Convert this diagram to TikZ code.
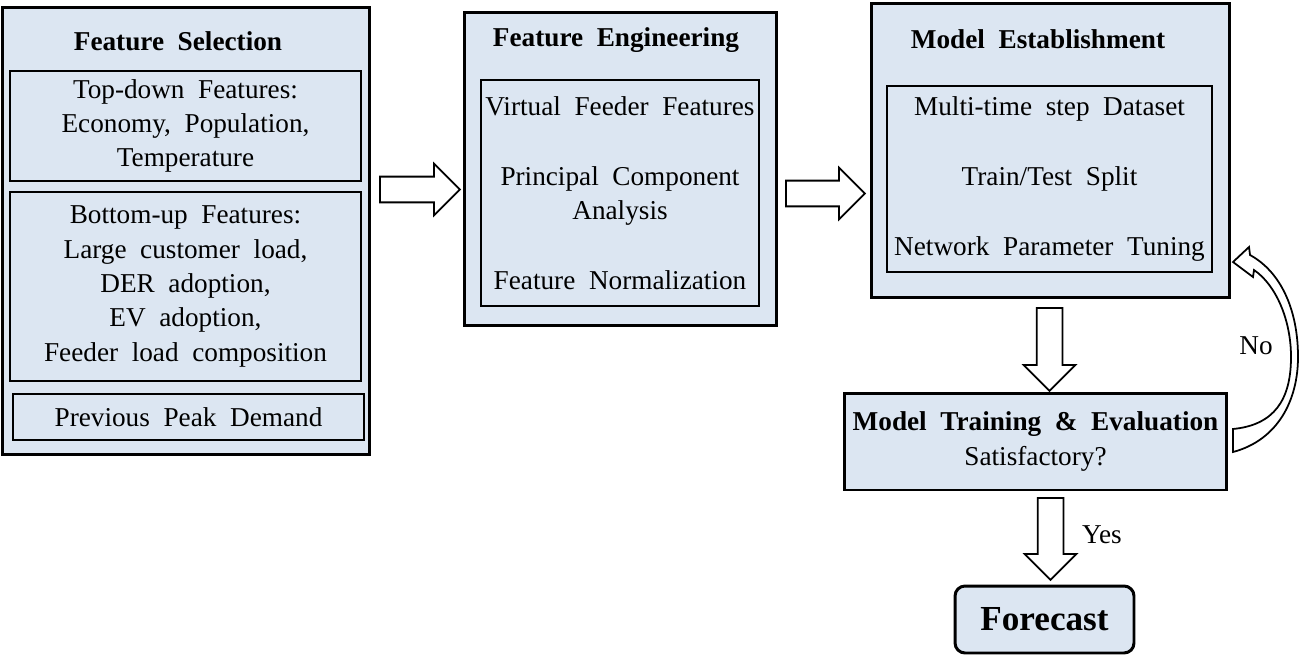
\documentclass[tikz,border=0pt]{standalone}
\usepackage{fontspec}
\setmainfont[WordSpace=2]{Liberation Serif}
\usetikzlibrary{shapes,arrows}
\definecolor{boxblue}{RGB}{220,230,242}
\newcommand{\boxfont}{\fontsize{15.5}{19.6}\selectfont}
\tikzstyle{outer} = [rectangle, draw, fill=boxblue, line width=1.7pt, inner sep=0pt]
\tikzstyle{inner} = [rectangle, draw, fill=boxblue, line width=1.1pt,
    align=center, inner sep=0pt]
\tikzstyle{title} = [font=\boxfont\bfseries, inner sep=0pt]
\tikzstyle{fat} = [single arrow, draw, fill=white, line width=1pt,
    inner xsep=0pt, inner ysep=0.24cm, anchor=tail,
    single arrow head extend=0.26cm, single arrow tip angle=90,
    single arrow head indent=0pt, minimum width=1cm]
\tikzstyle{curved} = [draw, fill=white, line width=1pt, line join=miter]

\begin{document}
\begin{tikzpicture}[x=0.02cm, y=-0.02cm, font=\boxfont]
        \useasboundingbox (0,0) rectangle (1300,655);

        % Place nodes
        \node [outer, minimum width=7.36cm, minimum height=8.96cm] (select) at (186,231) {};
        \node [title] (selecttitle) at (178,41) {Feature Selection};
        \node [inner, minimum width=7.02cm, minimum height=2.2cm] (topdown) at (185.5,126)
            {Top-down Features:\\ Economy, Population,\\ Temperature};
        \node [inner, minimum width=7.02cm, minimum height=3.78cm] (bottomup) at (185.5,286.5)
            {Bottom-up Features:\\ Large customer load,\\ DER adoption,\\ EV adoption,\\ Feeder load composition};
        \node [inner, minimum width=7.02cm, minimum height=0.92cm] (peak) at (188.5,417)
            {Previous Peak Demand};

        \node [outer, minimum width=6.26cm, minimum height=6.28cm] (engin) at (620.5,169) {};
        \node [title] (engintitle) at (616,40) {Feature Engineering};
        \node [inner, minimum width=5.56cm, minimum height=4.52cm] (enginlist) at (620,193)
            {Virtual Feeder Features\\[0.71cm] Principal Component\\ Analysis\\[0.71cm] Feature Normalization};

        \node [outer, minimum width=7.18cm, minimum height=5.9cm] (model) at (1050.5,150.5) {};
        \node [title] (modeltitle) at (1038,39) {Model Establishment};
        \node [inner, minimum width=6.5cm, minimum height=3.72cm] (modellist) at (1049.5,179)
            {Multi-time step Dataset\\[0.71cm] Train/Test Split\\[0.71cm] Network Parameter Tuning};

        \node [outer, align=center, minimum width=7.66cm, minimum height=1.94cm] (train) at (1035.5,441.5)
            {\textbf{Model Training \& Evaluation}\\ Satisfactory?};
        \node [outer, rounded corners=0.2cm, minimum width=3.58cm, minimum height=1.34cm,
            font=\fontsize{20}{24}\selectfont\bfseries] (forecast) at (1044.5,619.5) {Forecast};

        % Draw edges
        \node [fat, minimum height=1.6cm] (select2engin) at (379,189.5) {};
        \node [fat, minimum height=1.58cm] (engin2model) at (785,193.5) {};
        \node [fat, rotate=-90, minimum height=1.66cm] (model2train) at (1049.5,307) {};
        \node [fat, rotate=-90, minimum height=1.64cm] (train2forecast) at (1050.5,497) {};
        \path [curved] (1233,452) .. controls (1278,440) and (1298,400) .. (1298,357)
            .. controls (1298,310) and (1281,272) .. (1250,255)
            -- (1249,247) -- (1233,262) -- (1253,277) -- (1254,270)
            .. controls (1276,285) and (1291,320) .. (1291,357)
            .. controls (1291,400) and (1274,425) .. (1233,429) -- cycle;
        \node (yes) at (1102,535) {Yes};
        \node (no) at (1256,346) {No};
\end{tikzpicture}
\end{document}
